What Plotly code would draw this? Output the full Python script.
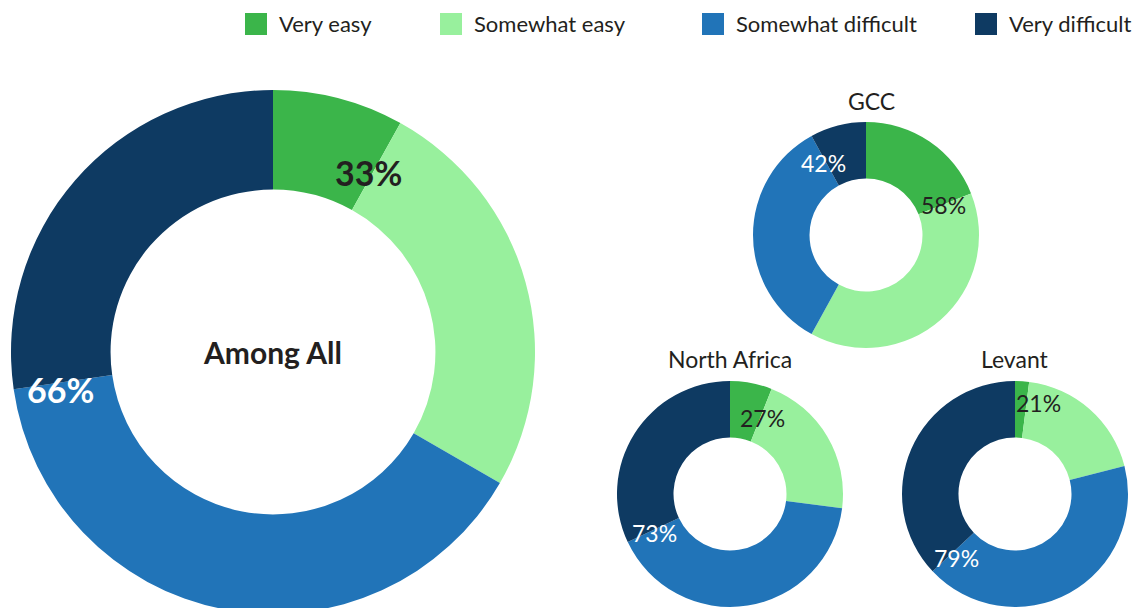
import plotly.graph_objects as go

categories = ["Very easy", "Somewhat easy", "Somewhat difficult", "Very difficult"]
colors = ["#3bb54a", "#98f09d", "#2174b8", "#0e3a62"]

all_values = [8, 25, 39, 27]
gcc_values = [19, 39, 34, 8]
north_africa_values = [6, 21, 41, 32]
levant_values = [2, 19, 42, 37]

all_labels = ["33%", "66%"]
gcc_labels = ["58%", "42%"]
north_africa_labels = ["27%", "73%"]
levant_labels = ["21%", "79%"]

W, H = 1145, 608
FONT = "Lato"
DARK = "#231f20"


def px(x0, x1):
    return [x0 / W, x1 / W]


def py(top, bottom):
    # pixel rows counted from the top -> paper fractions
    return [max(0, 1 - bottom / H), min(1, 1 - top / H)]


def donut(values, dom_x, dom_y, hole, title=None):
    return go.Pie(
        labels=categories,
        values=values,
        marker=dict(colors=colors, line=dict(width=0)),
        hole=hole,
        sort=False,
        direction="clockwise",
        textinfo="none",
        hoverinfo="label+percent",
        domain=dict(x=dom_x, y=dom_y),
        showlegend=False,
        title=title,
    )


fig = go.Figure()
fig.add_trace(donut(all_values, px(3, 527), py(82, 606), 0.62,
                    title=dict(text="Among All", position="middle center",
                               font=dict(family=FONT, size=30, color=DARK, weight="bold"))))
fig.add_trace(donut(gcc_values, px(745, 971), py(114, 340), 0.5))
fig.add_trace(donut(north_africa_values, px(609, 835), py(373, 599), 0.5))
fig.add_trace(donut(levant_values, px(894, 1120), py(373, 599), 0.5))


def label(text, x, y, size, color, weight="normal", anchor="center"):
    fig.add_annotation(
        text=text, x=x / W, y=1 - y / H, xref="paper", yref="paper",
        showarrow=False, xanchor=anchor, yanchor="middle",
        font=dict(family=FONT, size=size, color=color, weight=weight),
    )


# legend drawn by hand so the keys match the big squares of the original
legend_x = [237, 432, 694, 967]
for name, col, lx in zip(categories, colors, legend_x):
    fig.add_shape(type="rect", xref="paper", yref="paper",
                  x0=lx / W, x1=(lx + 22) / W, y0=1 - 27 / H, y1=1 - 5 / H,
                  fillcolor=col, line=dict(width=0))
    label(name, lx + 32, 16, 22, DARK, anchor="left")

# region titles
label("GCC", 863, 93, 23, DARK)
label("North Africa", 722, 351, 23, DARK)
label("Levant", 1007, 351, 23, DARK)

# easy / difficult totals
label(all_labels[0], 360, 165, 34, DARK, weight="bold")
label(all_labels[1], 52, 381, 34, "white", weight="bold")
label(gcc_labels[0], 935, 197, 23, DARK)
label(gcc_labels[1], 815, 155, 23, "white")
label(north_africa_labels[0], 754, 410, 23, DARK)
label(north_africa_labels[1], 646, 525, 23, "white")
label(levant_labels[0], 1030, 395, 23, DARK)
label(levant_labels[1], 948, 550, 23, "white")

fig.update_layout(
    width=W, height=H,
    margin=dict(l=0, r=0, t=0, b=0),
    paper_bgcolor="white",
    font=dict(family=FONT, color=DARK),
    showlegend=False,
)

fig.write_html("out.html")
